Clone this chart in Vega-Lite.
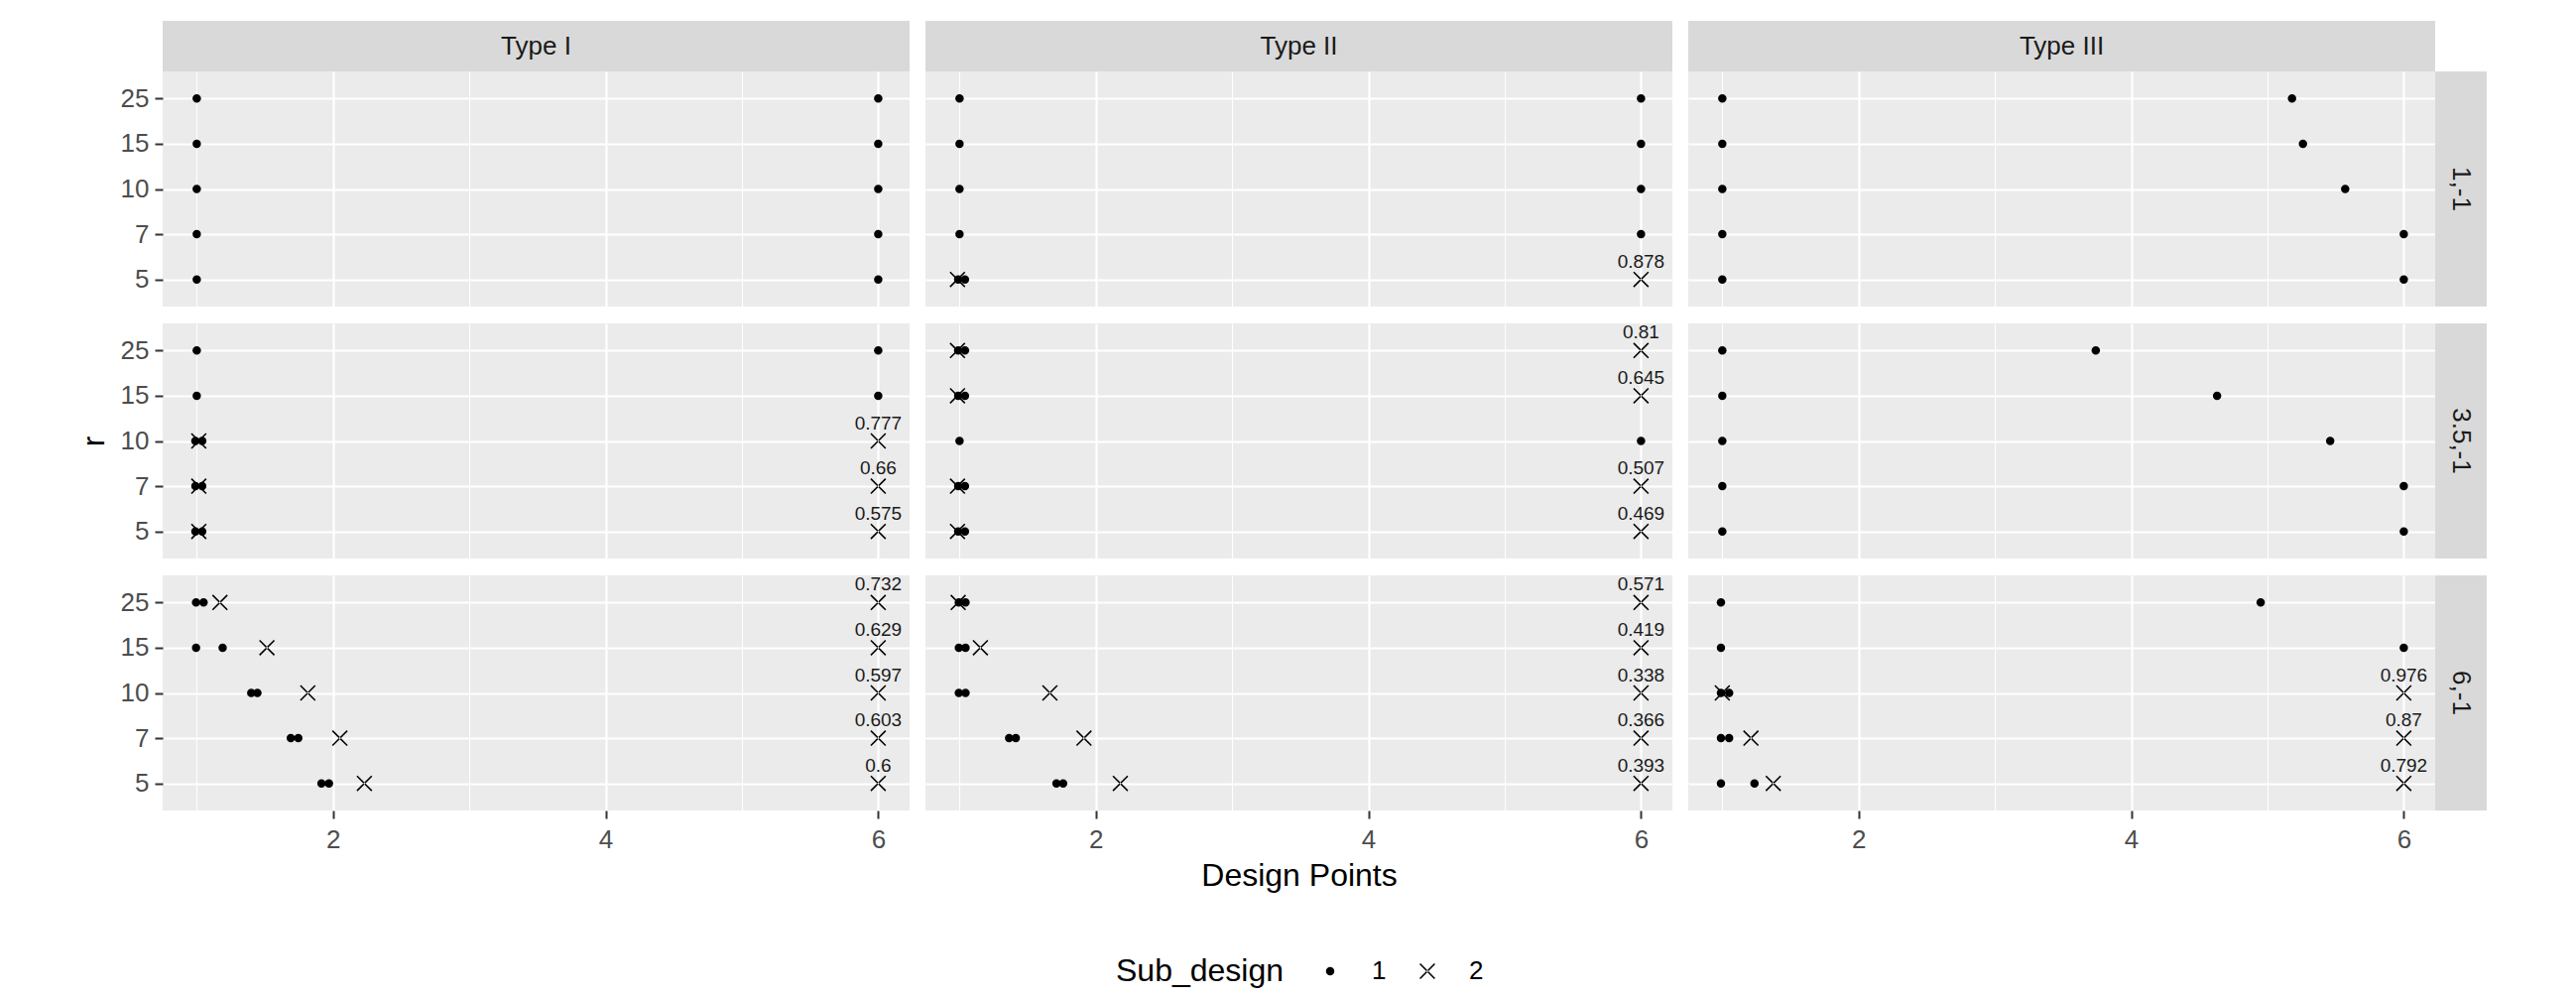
{
  "$schema": "https://vega.github.io/schema/vega-lite/v6.json",
  "background": "white",
  "padding": {"left": 78, "top": 21, "right": 10, "bottom": 5},
  "config": {
    "font": "Liberation Sans",
    "view": {"fill": "#EBEBEB", "stroke": null},
    "axis": {"domain": false, "grid": true, "gridColor": "#FFFFFF", "gridWidth": 2.2, "gridOpacity": 1, "labelFont": "Liberation Sans", "labelFontSize": 26, "labelColor": "#4D4D4D", "tickColor": "#333333", "tickSize": 8, "tickWidth": 2, "labelPadding": 5, "titleFont": "Liberation Sans", "titleFontSize": 32, "titleFontWeight": "normal", "titleColor": "#000000"},
    "legend": {"orient": "none", "legendX": 961, "legendY": 945, "direction": "horizontal", "titleOrient": "left", "titleFont": "Liberation Sans", "titleFontSize": 32, "titleFontWeight": "normal", "titleColor": "#000000", "labelFont": "Liberation Sans", "labelFontSize": 26, "labelColor": "#000000", "symbolSize": 256, "symbolStrokeWidth": 0, "symbolFillColor": "#000000", "symbolStrokeColor": "#000000", "symbolOpacity": 1, "labelOffset": 29, "columnPadding": 28, "titlePadding": 33}
  },
  "datasets": {
    "pts": [
      {"Type": "Type I", "Scenario": "1,-1", "r": 25, "x": 1, "Sub_design": "1"},
      {"Type": "Type I", "Scenario": "1,-1", "r": 25, "x": 6, "Sub_design": "1"},
      {"Type": "Type I", "Scenario": "1,-1", "r": 15, "x": 1, "Sub_design": "1"},
      {"Type": "Type I", "Scenario": "1,-1", "r": 15, "x": 6, "Sub_design": "1"},
      {"Type": "Type I", "Scenario": "1,-1", "r": 10, "x": 1, "Sub_design": "1"},
      {"Type": "Type I", "Scenario": "1,-1", "r": 10, "x": 6, "Sub_design": "1"},
      {"Type": "Type I", "Scenario": "1,-1", "r": 7, "x": 1, "Sub_design": "1"},
      {"Type": "Type I", "Scenario": "1,-1", "r": 7, "x": 6, "Sub_design": "1"},
      {"Type": "Type I", "Scenario": "1,-1", "r": 5, "x": 1, "Sub_design": "1"},
      {"Type": "Type I", "Scenario": "1,-1", "r": 5, "x": 6, "Sub_design": "1"},

      {"Type": "Type I", "Scenario": "3.5,-1", "r": 25, "x": 1, "Sub_design": "1"},
      {"Type": "Type I", "Scenario": "3.5,-1", "r": 25, "x": 6, "Sub_design": "1"},
      {"Type": "Type I", "Scenario": "3.5,-1", "r": 15, "x": 1, "Sub_design": "1"},
      {"Type": "Type I", "Scenario": "3.5,-1", "r": 15, "x": 6, "Sub_design": "1"},
      {"Type": "Type I", "Scenario": "3.5,-1", "r": 10, "x": 0.99, "Sub_design": "1"},
      {"Type": "Type I", "Scenario": "3.5,-1", "r": 10, "x": 1.04, "Sub_design": "1"},
      {"Type": "Type I", "Scenario": "3.5,-1", "r": 10, "x": 1.015, "Sub_design": "2"},
      {"Type": "Type I", "Scenario": "3.5,-1", "r": 10, "x": 6, "Sub_design": "2", "label": "0.777"},
      {"Type": "Type I", "Scenario": "3.5,-1", "r": 7, "x": 0.99, "Sub_design": "1"},
      {"Type": "Type I", "Scenario": "3.5,-1", "r": 7, "x": 1.04, "Sub_design": "1"},
      {"Type": "Type I", "Scenario": "3.5,-1", "r": 7, "x": 1.015, "Sub_design": "2"},
      {"Type": "Type I", "Scenario": "3.5,-1", "r": 7, "x": 6, "Sub_design": "2", "label": "0.66"},
      {"Type": "Type I", "Scenario": "3.5,-1", "r": 5, "x": 0.99, "Sub_design": "1"},
      {"Type": "Type I", "Scenario": "3.5,-1", "r": 5, "x": 1.04, "Sub_design": "1"},
      {"Type": "Type I", "Scenario": "3.5,-1", "r": 5, "x": 1.015, "Sub_design": "2"},
      {"Type": "Type I", "Scenario": "3.5,-1", "r": 5, "x": 6, "Sub_design": "2", "label": "0.575"},

      {"Type": "Type I", "Scenario": "6,-1", "r": 25, "x": 0.995, "Sub_design": "1"},
      {"Type": "Type I", "Scenario": "6,-1", "r": 25, "x": 1.05, "Sub_design": "1"},
      {"Type": "Type I", "Scenario": "6,-1", "r": 25, "x": 1.17, "Sub_design": "2"},
      {"Type": "Type I", "Scenario": "6,-1", "r": 25, "x": 6, "Sub_design": "2", "label": "0.732"},
      {"Type": "Type I", "Scenario": "6,-1", "r": 15, "x": 0.995, "Sub_design": "1"},
      {"Type": "Type I", "Scenario": "6,-1", "r": 15, "x": 1.19, "Sub_design": "1"},
      {"Type": "Type I", "Scenario": "6,-1", "r": 15, "x": 1.515, "Sub_design": "2"},
      {"Type": "Type I", "Scenario": "6,-1", "r": 15, "x": 6, "Sub_design": "2", "label": "0.629"},
      {"Type": "Type I", "Scenario": "6,-1", "r": 10, "x": 1.4, "Sub_design": "1"},
      {"Type": "Type I", "Scenario": "6,-1", "r": 10, "x": 1.445, "Sub_design": "1"},
      {"Type": "Type I", "Scenario": "6,-1", "r": 10, "x": 1.815, "Sub_design": "2"},
      {"Type": "Type I", "Scenario": "6,-1", "r": 10, "x": 6, "Sub_design": "2", "label": "0.597"},
      {"Type": "Type I", "Scenario": "6,-1", "r": 7, "x": 1.69, "Sub_design": "1"},
      {"Type": "Type I", "Scenario": "6,-1", "r": 7, "x": 1.745, "Sub_design": "1"},
      {"Type": "Type I", "Scenario": "6,-1", "r": 7, "x": 2.05, "Sub_design": "2"},
      {"Type": "Type I", "Scenario": "6,-1", "r": 7, "x": 6, "Sub_design": "2", "label": "0.603"},
      {"Type": "Type I", "Scenario": "6,-1", "r": 5, "x": 1.915, "Sub_design": "1"},
      {"Type": "Type I", "Scenario": "6,-1", "r": 5, "x": 1.97, "Sub_design": "1"},
      {"Type": "Type I", "Scenario": "6,-1", "r": 5, "x": 2.23, "Sub_design": "2"},
      {"Type": "Type I", "Scenario": "6,-1", "r": 5, "x": 6, "Sub_design": "2", "label": "0.6"},

      {"Type": "Type II", "Scenario": "1,-1", "r": 25, "x": 1, "Sub_design": "1"},
      {"Type": "Type II", "Scenario": "1,-1", "r": 25, "x": 6, "Sub_design": "1"},
      {"Type": "Type II", "Scenario": "1,-1", "r": 15, "x": 1, "Sub_design": "1"},
      {"Type": "Type II", "Scenario": "1,-1", "r": 15, "x": 6, "Sub_design": "1"},
      {"Type": "Type II", "Scenario": "1,-1", "r": 10, "x": 1, "Sub_design": "1"},
      {"Type": "Type II", "Scenario": "1,-1", "r": 10, "x": 6, "Sub_design": "1"},
      {"Type": "Type II", "Scenario": "1,-1", "r": 7, "x": 1, "Sub_design": "1"},
      {"Type": "Type II", "Scenario": "1,-1", "r": 7, "x": 6, "Sub_design": "1"},
      {"Type": "Type II", "Scenario": "1,-1", "r": 5, "x": 0.99, "Sub_design": "1"},
      {"Type": "Type II", "Scenario": "1,-1", "r": 5, "x": 1.04, "Sub_design": "1"},
      {"Type": "Type II", "Scenario": "1,-1", "r": 5, "x": 0.985, "Sub_design": "2"},
      {"Type": "Type II", "Scenario": "1,-1", "r": 5, "x": 6, "Sub_design": "2", "label": "0.878"},

      {"Type": "Type II", "Scenario": "3.5,-1", "r": 25, "x": 0.99, "Sub_design": "1"},
      {"Type": "Type II", "Scenario": "3.5,-1", "r": 25, "x": 1.04, "Sub_design": "1"},
      {"Type": "Type II", "Scenario": "3.5,-1", "r": 25, "x": 0.985, "Sub_design": "2"},
      {"Type": "Type II", "Scenario": "3.5,-1", "r": 25, "x": 6, "Sub_design": "2", "label": "0.81"},
      {"Type": "Type II", "Scenario": "3.5,-1", "r": 15, "x": 0.99, "Sub_design": "1"},
      {"Type": "Type II", "Scenario": "3.5,-1", "r": 15, "x": 1.04, "Sub_design": "1"},
      {"Type": "Type II", "Scenario": "3.5,-1", "r": 15, "x": 0.985, "Sub_design": "2"},
      {"Type": "Type II", "Scenario": "3.5,-1", "r": 15, "x": 6, "Sub_design": "2", "label": "0.645"},
      {"Type": "Type II", "Scenario": "3.5,-1", "r": 10, "x": 1, "Sub_design": "1"},
      {"Type": "Type II", "Scenario": "3.5,-1", "r": 10, "x": 6, "Sub_design": "1"},
      {"Type": "Type II", "Scenario": "3.5,-1", "r": 7, "x": 0.99, "Sub_design": "1"},
      {"Type": "Type II", "Scenario": "3.5,-1", "r": 7, "x": 1.04, "Sub_design": "1"},
      {"Type": "Type II", "Scenario": "3.5,-1", "r": 7, "x": 0.985, "Sub_design": "2"},
      {"Type": "Type II", "Scenario": "3.5,-1", "r": 7, "x": 6, "Sub_design": "2", "label": "0.507"},
      {"Type": "Type II", "Scenario": "3.5,-1", "r": 5, "x": 0.99, "Sub_design": "1"},
      {"Type": "Type II", "Scenario": "3.5,-1", "r": 5, "x": 1.04, "Sub_design": "1"},
      {"Type": "Type II", "Scenario": "3.5,-1", "r": 5, "x": 0.985, "Sub_design": "2"},
      {"Type": "Type II", "Scenario": "3.5,-1", "r": 5, "x": 6, "Sub_design": "2", "label": "0.469"},

      {"Type": "Type II", "Scenario": "6,-1", "r": 25, "x": 0.995, "Sub_design": "1"},
      {"Type": "Type II", "Scenario": "6,-1", "r": 25, "x": 1.044, "Sub_design": "1"},
      {"Type": "Type II", "Scenario": "6,-1", "r": 25, "x": 0.99, "Sub_design": "2"},
      {"Type": "Type II", "Scenario": "6,-1", "r": 25, "x": 6, "Sub_design": "2", "label": "0.571"},
      {"Type": "Type II", "Scenario": "6,-1", "r": 15, "x": 0.995, "Sub_design": "1"},
      {"Type": "Type II", "Scenario": "6,-1", "r": 15, "x": 1.044, "Sub_design": "1"},
      {"Type": "Type II", "Scenario": "6,-1", "r": 15, "x": 1.153, "Sub_design": "2"},
      {"Type": "Type II", "Scenario": "6,-1", "r": 15, "x": 6, "Sub_design": "2", "label": "0.419"},
      {"Type": "Type II", "Scenario": "6,-1", "r": 10, "x": 0.995, "Sub_design": "1"},
      {"Type": "Type II", "Scenario": "6,-1", "r": 10, "x": 1.044, "Sub_design": "1"},
      {"Type": "Type II", "Scenario": "6,-1", "r": 10, "x": 1.663, "Sub_design": "2"},
      {"Type": "Type II", "Scenario": "6,-1", "r": 10, "x": 6, "Sub_design": "2", "label": "0.338"},
      {"Type": "Type II", "Scenario": "6,-1", "r": 7, "x": 1.364, "Sub_design": "1"},
      {"Type": "Type II", "Scenario": "6,-1", "r": 7, "x": 1.413, "Sub_design": "1"},
      {"Type": "Type II", "Scenario": "6,-1", "r": 7, "x": 1.913, "Sub_design": "2"},
      {"Type": "Type II", "Scenario": "6,-1", "r": 7, "x": 6, "Sub_design": "2", "label": "0.366"},
      {"Type": "Type II", "Scenario": "6,-1", "r": 5, "x": 1.711, "Sub_design": "1"},
      {"Type": "Type II", "Scenario": "6,-1", "r": 5, "x": 1.76, "Sub_design": "1"},
      {"Type": "Type II", "Scenario": "6,-1", "r": 5, "x": 2.18, "Sub_design": "2"},
      {"Type": "Type II", "Scenario": "6,-1", "r": 5, "x": 6, "Sub_design": "2", "label": "0.393"},

      {"Type": "Type III", "Scenario": "1,-1", "r": 25, "x": 1, "Sub_design": "1"},
      {"Type": "Type III", "Scenario": "1,-1", "r": 25, "x": 5.18, "Sub_design": "1"},
      {"Type": "Type III", "Scenario": "1,-1", "r": 15, "x": 1, "Sub_design": "1"},
      {"Type": "Type III", "Scenario": "1,-1", "r": 15, "x": 5.26, "Sub_design": "1"},
      {"Type": "Type III", "Scenario": "1,-1", "r": 10, "x": 1, "Sub_design": "1"},
      {"Type": "Type III", "Scenario": "1,-1", "r": 10, "x": 5.57, "Sub_design": "1"},
      {"Type": "Type III", "Scenario": "1,-1", "r": 7, "x": 1, "Sub_design": "1"},
      {"Type": "Type III", "Scenario": "1,-1", "r": 7, "x": 6, "Sub_design": "1"},
      {"Type": "Type III", "Scenario": "1,-1", "r": 5, "x": 1, "Sub_design": "1"},
      {"Type": "Type III", "Scenario": "1,-1", "r": 5, "x": 6, "Sub_design": "1"},

      {"Type": "Type III", "Scenario": "3.5,-1", "r": 25, "x": 1, "Sub_design": "1"},
      {"Type": "Type III", "Scenario": "3.5,-1", "r": 25, "x": 3.74, "Sub_design": "1"},
      {"Type": "Type III", "Scenario": "3.5,-1", "r": 15, "x": 1, "Sub_design": "1"},
      {"Type": "Type III", "Scenario": "3.5,-1", "r": 15, "x": 4.63, "Sub_design": "1"},
      {"Type": "Type III", "Scenario": "3.5,-1", "r": 10, "x": 1, "Sub_design": "1"},
      {"Type": "Type III", "Scenario": "3.5,-1", "r": 10, "x": 5.46, "Sub_design": "1"},
      {"Type": "Type III", "Scenario": "3.5,-1", "r": 7, "x": 1, "Sub_design": "1"},
      {"Type": "Type III", "Scenario": "3.5,-1", "r": 7, "x": 6, "Sub_design": "1"},
      {"Type": "Type III", "Scenario": "3.5,-1", "r": 5, "x": 1, "Sub_design": "1"},
      {"Type": "Type III", "Scenario": "3.5,-1", "r": 5, "x": 6, "Sub_design": "1"},

      {"Type": "Type III", "Scenario": "6,-1", "r": 25, "x": 0.99, "Sub_design": "1"},
      {"Type": "Type III", "Scenario": "6,-1", "r": 25, "x": 4.95, "Sub_design": "1"},
      {"Type": "Type III", "Scenario": "6,-1", "r": 15, "x": 0.99, "Sub_design": "1"},
      {"Type": "Type III", "Scenario": "6,-1", "r": 15, "x": 6, "Sub_design": "1"},
      {"Type": "Type III", "Scenario": "6,-1", "r": 10, "x": 0.99, "Sub_design": "1"},
      {"Type": "Type III", "Scenario": "6,-1", "r": 10, "x": 1.05, "Sub_design": "1"},
      {"Type": "Type III", "Scenario": "6,-1", "r": 10, "x": 1.0, "Sub_design": "2"},
      {"Type": "Type III", "Scenario": "6,-1", "r": 10, "x": 6, "Sub_design": "2", "label": "0.976"},
      {"Type": "Type III", "Scenario": "6,-1", "r": 7, "x": 0.99, "Sub_design": "1"},
      {"Type": "Type III", "Scenario": "6,-1", "r": 7, "x": 1.05, "Sub_design": "1"},
      {"Type": "Type III", "Scenario": "6,-1", "r": 7, "x": 1.21, "Sub_design": "2"},
      {"Type": "Type III", "Scenario": "6,-1", "r": 7, "x": 6, "Sub_design": "2", "label": "0.87"},
      {"Type": "Type III", "Scenario": "6,-1", "r": 5, "x": 0.99, "Sub_design": "1"},
      {"Type": "Type III", "Scenario": "6,-1", "r": 5, "x": 1.236, "Sub_design": "1"},
      {"Type": "Type III", "Scenario": "6,-1", "r": 5, "x": 1.374, "Sub_design": "2"},
      {"Type": "Type III", "Scenario": "6,-1", "r": 5, "x": 6, "Sub_design": "2", "label": "0.792"}
    ]
  },
  "spacing": 17,
  "vconcat": [
    {
      "spacing": 0,
      "vconcat": [
        {
          "spacing": 16,
          "hconcat": [
            {"width": 753, "height": 51, "view": {"fill": "#D9D9D9", "stroke": null}, "data": {"values": [{"strip": "Type I"}]}, "mark": {"type": "text", "fontSize": 26, "color": "#1A1A1A", "baseline": "middle"}, "encoding": {"x": {"field": "strip", "type": "nominal", "axis": null, "scale": {"type": "point"}}, "y": {"field": "strip", "type": "nominal", "scale": {"type": "point"}, "axis": {"grid": false, "labelExpr": "'25'", "labelOpacity": 0, "tickOpacity": 0, "labelPadding": 6, "title": "r", "titleOpacity": 0, "titlePadding": 10}}, "text": {"field": "strip"}}},
            {"width": 753, "height": 51, "view": {"fill": "#D9D9D9", "stroke": null}, "data": {"values": [{"strip": "Type II"}]}, "mark": {"type": "text", "fontSize": 26, "color": "#1A1A1A", "baseline": "middle"}, "encoding": {"x": {"field": "strip", "type": "nominal", "axis": null, "scale": {"type": "point"}}, "y": {"field": "strip", "type": "nominal", "axis": null, "scale": {"type": "point"}}, "text": {"field": "strip"}}},
            {"width": 753, "height": 51, "view": {"fill": "#D9D9D9", "stroke": null}, "data": {"values": [{"strip": "Type III"}]}, "mark": {"type": "text", "fontSize": 26, "color": "#1A1A1A", "baseline": "middle"}, "encoding": {"x": {"field": "strip", "type": "nominal", "axis": null, "scale": {"type": "point"}}, "y": {"field": "strip", "type": "nominal", "axis": null, "scale": {"type": "point"}}, "text": {"field": "strip"}}}
          ]
        },
        {
          "spacing": 16,
          "hconcat": [
            {
              "width": 753, "height": 237,
              "data": {"name": "pts"},
              "transform": [{"filter": "datum.Type === 'Type I' && datum.Scenario === '1,-1'"}],
              "encoding": {
                "x": {"field": "x", "type": "quantitative", "scale": {"domain": [0.75, 6.23], "nice": false, "zero": false}, "axis": {"values": [1, 2, 3, 4, 5, 6], "labels": false, "ticks": false, "title": null, "gridWidth": {"condition": {"test": "datum.value % 2 === 0", "value": 2.2}, "value": 1.1}}},
                "y": {"field": "r", "type": "ordinal", "sort": [25, 15, 10, 7, 5], "scale": {"type": "point", "padding": 0.6, "domain": [25, 15, 10, 7, 5]}, "axis": {"title": "r", "titleOpacity": 0, "titlePadding": 10, "labelPadding": 6}}
              },
              "layer": [
                {"mark": {"type": "point", "filled": true, "fill": "#000000", "strokeWidth": 0, "opacity": 1, "size": 256}, "encoding": {"shape": {"field": "Sub_design", "type": "nominal", "scale": {"domain": ["1", "2"], "range": ["M-0.53,0A0.53,0.53,0,1,0,0.53,0A0.53,0.53,0,1,0,-0.53,0Z", "M-1,-0.86L-0.86,-1L1,0.86L0.86,1ZM-1,0.86L-0.86,1L1,-0.86L0.86,-1Z"]}}}},
                {"transform": [{"filter": "isValid(datum.label)"}], "mark": {"type": "text", "baseline": "alphabetic", "dy": -12, "fontSize": 19, "color": "#1A1A1A", "clip": true}, "encoding": {"text": {"field": "label"}}}
              ]
            },
            {
              "width": 753, "height": 237,
              "data": {"name": "pts"},
              "transform": [{"filter": "datum.Type === 'Type II' && datum.Scenario === '1,-1'"}],
              "encoding": {
                "x": {"field": "x", "type": "quantitative", "scale": {"domain": [0.75, 6.23], "nice": false, "zero": false}, "axis": {"values": [1, 2, 3, 4, 5, 6], "labels": false, "ticks": false, "title": null, "gridWidth": {"condition": {"test": "datum.value % 2 === 0", "value": 2.2}, "value": 1.1}}},
                "y": {"field": "r", "type": "ordinal", "sort": [25, 15, 10, 7, 5], "scale": {"type": "point", "padding": 0.6, "domain": [25, 15, 10, 7, 5]}, "axis": {"title": null, "labels": false, "ticks": false}}
              },
              "layer": [
                {"mark": {"type": "point", "filled": true, "fill": "#000000", "strokeWidth": 0, "opacity": 1, "size": 256}, "encoding": {"shape": {"field": "Sub_design", "type": "nominal", "scale": {"domain": ["1", "2"], "range": ["M-0.53,0A0.53,0.53,0,1,0,0.53,0A0.53,0.53,0,1,0,-0.53,0Z", "M-1,-0.86L-0.86,-1L1,0.86L0.86,1ZM-1,0.86L-0.86,1L1,-0.86L0.86,-1Z"]}}}},
                {"transform": [{"filter": "isValid(datum.label)"}], "mark": {"type": "text", "baseline": "alphabetic", "dy": -12, "fontSize": 19, "color": "#1A1A1A", "clip": true}, "encoding": {"text": {"field": "label"}}}
              ]
            },
            {
              "spacing": 0,
              "hconcat": [
                {
                  "width": 753, "height": 237,
                  "data": {"name": "pts"},
                  "transform": [{"filter": "datum.Type === 'Type III' && datum.Scenario === '1,-1'"}],
                  "encoding": {
                    "x": {"field": "x", "type": "quantitative", "scale": {"domain": [0.75, 6.23], "nice": false, "zero": false}, "axis": {"values": [1, 2, 3, 4, 5, 6], "labels": false, "ticks": false, "title": null, "gridWidth": {"condition": {"test": "datum.value % 2 === 0", "value": 2.2}, "value": 1.1}}},
                    "y": {"field": "r", "type": "ordinal", "sort": [25, 15, 10, 7, 5], "scale": {"type": "point", "padding": 0.6, "domain": [25, 15, 10, 7, 5]}, "axis": {"title": null, "labels": false, "ticks": false}}
                  },
                  "layer": [
                    {"mark": {"type": "point", "filled": true, "fill": "#000000", "strokeWidth": 0, "opacity": 1, "size": 256}, "encoding": {"shape": {"field": "Sub_design", "type": "nominal", "scale": {"domain": ["1", "2"], "range": ["M-0.53,0A0.53,0.53,0,1,0,0.53,0A0.53,0.53,0,1,0,-0.53,0Z", "M-1,-0.86L-0.86,-1L1,0.86L0.86,1ZM-1,0.86L-0.86,1L1,-0.86L0.86,-1Z"]}}}},
                    {"transform": [{"filter": "isValid(datum.label)"}], "mark": {"type": "text", "baseline": "alphabetic", "dy": -12, "fontSize": 19, "color": "#1A1A1A", "clip": true}, "encoding": {"text": {"field": "label"}}}
                  ]
                },
                {"width": 52, "height": 237, "view": {"fill": "#D9D9D9", "stroke": null}, "data": {"values": [{"strip": "1,-1"}]}, "mark": {"type": "text", "fontSize": 26, "color": "#1A1A1A", "baseline": "middle", "angle": 90}, "encoding": {"x": {"field": "strip", "type": "nominal", "axis": null, "scale": {"type": "point"}}, "y": {"field": "strip", "type": "nominal", "axis": null, "scale": {"type": "point"}}, "text": {"field": "strip"}}}
              ]
            }
          ]
        }
      ]
    },
    {
      "spacing": 16,
      "hconcat": [
        {
          "width": 753, "height": 237,
          "data": {"name": "pts"},
          "transform": [{"filter": "datum.Type === 'Type I' && datum.Scenario === '3.5,-1'"}],
          "encoding": {
            "x": {"field": "x", "type": "quantitative", "scale": {"domain": [0.75, 6.23], "nice": false, "zero": false}, "axis": {"values": [1, 2, 3, 4, 5, 6], "labels": false, "ticks": false, "title": null, "gridWidth": {"condition": {"test": "datum.value % 2 === 0", "value": 2.2}, "value": 1.1}}},
            "y": {"field": "r", "type": "ordinal", "sort": [25, 15, 10, 7, 5], "scale": {"type": "point", "padding": 0.6, "domain": [25, 15, 10, 7, 5]}, "axis": {"title": "r", "titlePadding": 10, "labelPadding": 6}}
          },
          "layer": [
            {"mark": {"type": "point", "filled": true, "fill": "#000000", "strokeWidth": 0, "opacity": 1, "size": 256}, "encoding": {"shape": {"field": "Sub_design", "type": "nominal", "scale": {"domain": ["1", "2"], "range": ["M-0.53,0A0.53,0.53,0,1,0,0.53,0A0.53,0.53,0,1,0,-0.53,0Z", "M-1,-0.86L-0.86,-1L1,0.86L0.86,1ZM-1,0.86L-0.86,1L1,-0.86L0.86,-1Z"]}}}},
            {"transform": [{"filter": "isValid(datum.label)"}], "mark": {"type": "text", "baseline": "alphabetic", "dy": -12, "fontSize": 19, "color": "#1A1A1A", "clip": true}, "encoding": {"text": {"field": "label"}}}
          ]
        },
        {
          "width": 753, "height": 237,
          "data": {"name": "pts"},
          "transform": [{"filter": "datum.Type === 'Type II' && datum.Scenario === '3.5,-1'"}],
          "encoding": {
            "x": {"field": "x", "type": "quantitative", "scale": {"domain": [0.75, 6.23], "nice": false, "zero": false}, "axis": {"values": [1, 2, 3, 4, 5, 6], "labels": false, "ticks": false, "title": null, "gridWidth": {"condition": {"test": "datum.value % 2 === 0", "value": 2.2}, "value": 1.1}}},
            "y": {"field": "r", "type": "ordinal", "sort": [25, 15, 10, 7, 5], "scale": {"type": "point", "padding": 0.6, "domain": [25, 15, 10, 7, 5]}, "axis": {"title": null, "labels": false, "ticks": false}}
          },
          "layer": [
            {"mark": {"type": "point", "filled": true, "fill": "#000000", "strokeWidth": 0, "opacity": 1, "size": 256}, "encoding": {"shape": {"field": "Sub_design", "type": "nominal", "scale": {"domain": ["1", "2"], "range": ["M-0.53,0A0.53,0.53,0,1,0,0.53,0A0.53,0.53,0,1,0,-0.53,0Z", "M-1,-0.86L-0.86,-1L1,0.86L0.86,1ZM-1,0.86L-0.86,1L1,-0.86L0.86,-1Z"]}}}},
            {"transform": [{"filter": "isValid(datum.label)"}], "mark": {"type": "text", "baseline": "alphabetic", "dy": -12, "fontSize": 19, "color": "#1A1A1A", "clip": true}, "encoding": {"text": {"field": "label"}}}
          ]
        },
        {
          "spacing": 0,
          "hconcat": [
            {
              "width": 753, "height": 237,
              "data": {"name": "pts"},
              "transform": [{"filter": "datum.Type === 'Type III' && datum.Scenario === '3.5,-1'"}],
              "encoding": {
                "x": {"field": "x", "type": "quantitative", "scale": {"domain": [0.75, 6.23], "nice": false, "zero": false}, "axis": {"values": [1, 2, 3, 4, 5, 6], "labels": false, "ticks": false, "title": null, "gridWidth": {"condition": {"test": "datum.value % 2 === 0", "value": 2.2}, "value": 1.1}}},
                "y": {"field": "r", "type": "ordinal", "sort": [25, 15, 10, 7, 5], "scale": {"type": "point", "padding": 0.6, "domain": [25, 15, 10, 7, 5]}, "axis": {"title": null, "labels": false, "ticks": false}}
              },
              "layer": [
                {"mark": {"type": "point", "filled": true, "fill": "#000000", "strokeWidth": 0, "opacity": 1, "size": 256}, "encoding": {"shape": {"field": "Sub_design", "type": "nominal", "scale": {"domain": ["1", "2"], "range": ["M-0.53,0A0.53,0.53,0,1,0,0.53,0A0.53,0.53,0,1,0,-0.53,0Z", "M-1,-0.86L-0.86,-1L1,0.86L0.86,1ZM-1,0.86L-0.86,1L1,-0.86L0.86,-1Z"]}}}},
                {"transform": [{"filter": "isValid(datum.label)"}], "mark": {"type": "text", "baseline": "alphabetic", "dy": -12, "fontSize": 19, "color": "#1A1A1A", "clip": true}, "encoding": {"text": {"field": "label"}}}
              ]
            },
            {"width": 52, "height": 237, "view": {"fill": "#D9D9D9", "stroke": null}, "data": {"values": [{"strip": "3.5,-1"}]}, "mark": {"type": "text", "fontSize": 26, "color": "#1A1A1A", "baseline": "middle", "angle": 90}, "encoding": {"x": {"field": "strip", "type": "nominal", "axis": null, "scale": {"type": "point"}}, "y": {"field": "strip", "type": "nominal", "axis": null, "scale": {"type": "point"}}, "text": {"field": "strip"}}}
          ]
        }
      ]
    },
    {
      "spacing": 16,
      "hconcat": [
        {
          "width": 753, "height": 237,
          "data": {"name": "pts"},
          "transform": [{"filter": "datum.Type === 'Type I' && datum.Scenario === '6,-1'"}],
          "encoding": {
            "x": {"field": "x", "type": "quantitative", "scale": {"domain": [0.75, 6.23], "nice": false, "zero": false}, "axis": {"values": [1, 2, 3, 4, 5, 6], "labelExpr": "datum.value % 2 === 0 ? datum.label : ''", "labelOverlap": false, "labelFlush": false, "labelPadding": 8, "title": null, "gridWidth": {"condition": {"test": "datum.value % 2 === 0", "value": 2.2}, "value": 1.1}, "tickOpacity": {"condition": {"test": "datum.value % 2 === 0", "value": 1}, "value": 0}}},
            "y": {"field": "r", "type": "ordinal", "sort": [25, 15, 10, 7, 5], "scale": {"type": "point", "padding": 0.6, "domain": [25, 15, 10, 7, 5]}, "axis": {"title": "r", "titleOpacity": 0, "titlePadding": 10, "labelPadding": 6}}
          },
          "layer": [
            {"mark": {"type": "point", "filled": true, "fill": "#000000", "strokeWidth": 0, "opacity": 1, "size": 256}, "encoding": {"shape": {"field": "Sub_design", "type": "nominal", "scale": {"domain": ["1", "2"], "range": ["M-0.53,0A0.53,0.53,0,1,0,0.53,0A0.53,0.53,0,1,0,-0.53,0Z", "M-1,-0.86L-0.86,-1L1,0.86L0.86,1ZM-1,0.86L-0.86,1L1,-0.86L0.86,-1Z"]}}}},
            {"transform": [{"filter": "isValid(datum.label)"}], "mark": {"type": "text", "baseline": "alphabetic", "dy": -12, "fontSize": 19, "color": "#1A1A1A", "clip": true}, "encoding": {"text": {"field": "label"}}}
          ]
        },
        {
          "width": 753, "height": 237,
          "data": {"name": "pts"},
          "transform": [{"filter": "datum.Type === 'Type II' && datum.Scenario === '6,-1'"}],
          "encoding": {
            "x": {"field": "x", "type": "quantitative", "scale": {"domain": [0.75, 6.23], "nice": false, "zero": false}, "axis": {"values": [1, 2, 3, 4, 5, 6], "labelExpr": "datum.value % 2 === 0 ? datum.label : ''", "labelOverlap": false, "labelFlush": false, "labelPadding": 8, "title": "Design Points", "titlePadding": 8, "gridWidth": {"condition": {"test": "datum.value % 2 === 0", "value": 2.2}, "value": 1.1}, "tickOpacity": {"condition": {"test": "datum.value % 2 === 0", "value": 1}, "value": 0}}},
            "y": {"field": "r", "type": "ordinal", "sort": [25, 15, 10, 7, 5], "scale": {"type": "point", "padding": 0.6, "domain": [25, 15, 10, 7, 5]}, "axis": {"title": null, "labels": false, "ticks": false}}
          },
          "layer": [
            {"mark": {"type": "point", "filled": true, "fill": "#000000", "strokeWidth": 0, "opacity": 1, "size": 256}, "encoding": {"shape": {"field": "Sub_design", "type": "nominal", "scale": {"domain": ["1", "2"], "range": ["M-0.53,0A0.53,0.53,0,1,0,0.53,0A0.53,0.53,0,1,0,-0.53,0Z", "M-1,-0.86L-0.86,-1L1,0.86L0.86,1ZM-1,0.86L-0.86,1L1,-0.86L0.86,-1Z"]}}}},
            {"transform": [{"filter": "isValid(datum.label)"}], "mark": {"type": "text", "baseline": "alphabetic", "dy": -12, "fontSize": 19, "color": "#1A1A1A", "clip": true}, "encoding": {"text": {"field": "label"}}}
          ]
        },
        {
          "spacing": 0,
          "hconcat": [
            {
              "width": 753, "height": 237,
              "data": {"name": "pts"},
              "transform": [{"filter": "datum.Type === 'Type III' && datum.Scenario === '6,-1'"}],
              "encoding": {
                "x": {"field": "x", "type": "quantitative", "scale": {"domain": [0.75, 6.23], "nice": false, "zero": false}, "axis": {"values": [1, 2, 3, 4, 5, 6], "labelExpr": "datum.value % 2 === 0 ? datum.label : ''", "labelOverlap": false, "labelFlush": false, "labelPadding": 8, "title": null, "gridWidth": {"condition": {"test": "datum.value % 2 === 0", "value": 2.2}, "value": 1.1}, "tickOpacity": {"condition": {"test": "datum.value % 2 === 0", "value": 1}, "value": 0}}},
                "y": {"field": "r", "type": "ordinal", "sort": [25, 15, 10, 7, 5], "scale": {"type": "point", "padding": 0.6, "domain": [25, 15, 10, 7, 5]}, "axis": {"title": null, "labels": false, "ticks": false}}
              },
              "layer": [
                {"mark": {"type": "point", "filled": true, "fill": "#000000", "strokeWidth": 0, "opacity": 1, "size": 256}, "encoding": {"shape": {"field": "Sub_design", "type": "nominal", "scale": {"domain": ["1", "2"], "range": ["M-0.53,0A0.53,0.53,0,1,0,0.53,0A0.53,0.53,0,1,0,-0.53,0Z", "M-1,-0.86L-0.86,-1L1,0.86L0.86,1ZM-1,0.86L-0.86,1L1,-0.86L0.86,-1Z"]}}}},
                {"transform": [{"filter": "isValid(datum.label)"}], "mark": {"type": "text", "baseline": "alphabetic", "dy": -12, "fontSize": 19, "color": "#1A1A1A", "clip": true}, "encoding": {"text": {"field": "label"}}}
              ]
            },
            {"width": 52, "height": 237, "view": {"fill": "#D9D9D9", "stroke": null}, "data": {"values": [{"strip": "6,-1"}]}, "mark": {"type": "text", "fontSize": 26, "color": "#1A1A1A", "baseline": "middle", "angle": 90}, "encoding": {"x": {"field": "strip", "type": "nominal", "axis": null, "scale": {"type": "point"}}, "y": {"field": "strip", "type": "nominal", "axis": null, "scale": {"type": "point"}}, "text": {"field": "strip"}}}
          ]
        }
      ]
    }
  ]
}
